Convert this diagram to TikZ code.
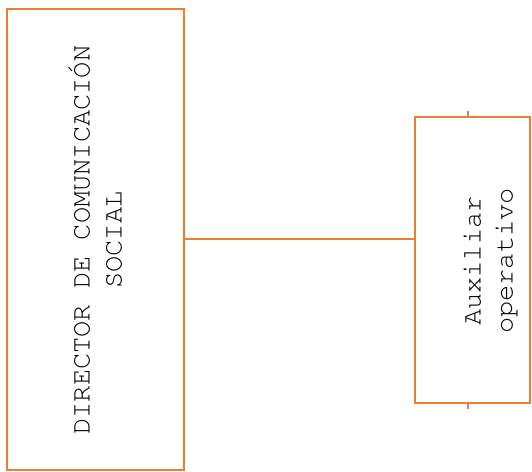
\documentclass[tikz,border=0pt]{standalone}
\usepackage[T1]{fontenc}
\usepackage{courier}
\definecolor{naranja}{RGB}{237,125,49}
\tikzset{
	caja/.style={draw=naranja,line width=2pt,inner sep=0pt},
	texto/.style={rotate=90,align=center,font=\ttfamily\fontsize{27}{32}\selectfont}
}
\begin{document}
\begin{tikzpicture}[x=1pt,y=-1pt]
			\useasboundingbox (0,0) rectangle (532,471);

			\node[caja,minimum width=177pt,minimum height=461pt] (dir) at (95.5,239) {};
			\node[caja,minimum width=115pt,minimum height=286pt] (aux) at (472.5,260) {};

			\node[texto] (tdir) at (95,240) {DIRECTOR DE COMUNICACIÓN\\SOCIAL};
			\node[texto] (taux) at (490,261) {Auxiliar\\operativo};

			\draw[naranja,line width=2pt] (dir.east) -- (dir.east -| aux.west);

			\coordinate (arriba) at (468,111);
			\coordinate (abajo) at (468,409);
			\draw[naranja,line width=2pt] (arriba) -- (arriba |- aux.north);
			\draw[naranja,line width=2pt] (abajo) -- (abajo |- aux.south);
		\end{tikzpicture}
\end{document}
